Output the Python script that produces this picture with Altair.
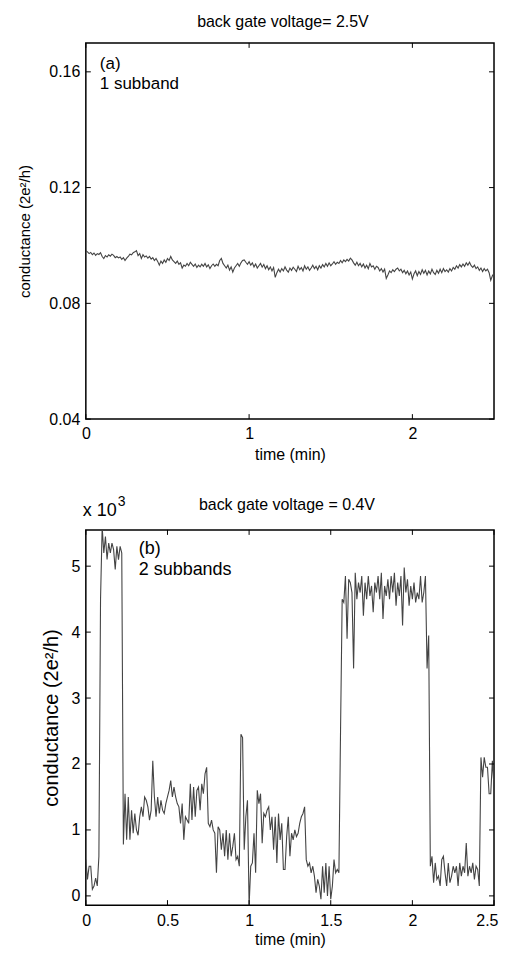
import altair as alt
import numpy as np
import pandas as pd

FONT = "Liberation Sans"
LINE_COLOR = "#444444"

# ---------------- data: panel (a), 2.5 V, sampled every 0.01 min ----------------
g_top = [
    0.0982, 0.0978, 0.0972, 0.0976, 0.0968, 0.0974, 0.0966, 0.0972, 0.0969, 0.0975,
    0.0962, 0.0955, 0.0965, 0.0960, 0.0968, 0.0963, 0.0970, 0.0966, 0.0958, 0.0962,
    0.0957, 0.0960, 0.0952, 0.0958, 0.0948, 0.0956, 0.0962, 0.0970, 0.0968, 0.0975,
    0.0978, 0.0982, 0.0965, 0.0972, 0.0955, 0.0968, 0.0960, 0.0964, 0.0956, 0.0962,
    0.0953, 0.0958, 0.0948, 0.0955, 0.0945, 0.0932, 0.0946, 0.0938, 0.0950, 0.0942,
    0.0955, 0.0948, 0.0962, 0.0950, 0.0944, 0.0938, 0.0946, 0.0935, 0.0940, 0.0922,
    0.0932, 0.0928, 0.0938, 0.0930, 0.0942, 0.0935, 0.0928, 0.0936, 0.0924, 0.0932,
    0.0926, 0.0935, 0.0928, 0.0938, 0.0926, 0.0933, 0.0920, 0.0930, 0.0936, 0.0928,
    0.0935, 0.0930, 0.0948, 0.0955, 0.0938, 0.0930, 0.0922, 0.0932, 0.0915, 0.0926,
    0.0908, 0.0922, 0.0930, 0.0938, 0.0928, 0.0940, 0.0948, 0.0950, 0.0942, 0.0935,
    0.0944, 0.0932, 0.0940, 0.0926, 0.0936, 0.0922, 0.0930, 0.0938, 0.0925, 0.0934,
    0.0920, 0.0930, 0.0916, 0.0926, 0.0912, 0.0924, 0.0890, 0.0906, 0.0918, 0.0908,
    0.0920, 0.0912, 0.0926, 0.0915, 0.0908, 0.0922, 0.0914, 0.0925, 0.0918, 0.0910,
    0.0928, 0.0916, 0.0924, 0.0912, 0.0930, 0.0918, 0.0926, 0.0914, 0.0922, 0.0932,
    0.0920, 0.0928, 0.0916, 0.0930, 0.0922, 0.0934, 0.0926, 0.0938, 0.0928, 0.0940,
    0.0930, 0.0936, 0.0944, 0.0935, 0.0942, 0.0938, 0.0948, 0.0940, 0.0950, 0.0944,
    0.0952, 0.0946, 0.0956, 0.0950, 0.0940, 0.0932, 0.0942, 0.0930, 0.0938, 0.0926,
    0.0936, 0.0922, 0.0932, 0.0920, 0.0938, 0.0926, 0.0930, 0.0918, 0.0928, 0.0924,
    0.0912, 0.0920, 0.0908, 0.0918, 0.0886, 0.0898, 0.0912, 0.0906, 0.0916, 0.0910,
    0.0918, 0.0922, 0.0912, 0.0918, 0.0906, 0.0914, 0.0902, 0.0912, 0.0898, 0.0908,
    0.0884, 0.0902, 0.0912, 0.0896, 0.0910, 0.0900, 0.0916, 0.0904, 0.0914, 0.0898,
    0.0912, 0.0902, 0.0918, 0.0906, 0.0900, 0.0914, 0.0904, 0.0918, 0.0906, 0.0920,
    0.0910, 0.0916, 0.0908, 0.0920, 0.0912, 0.0924, 0.0918, 0.0930, 0.0922, 0.0934,
    0.0926, 0.0936, 0.0928, 0.0940, 0.0932, 0.0942, 0.0930, 0.0924, 0.0932, 0.0920,
    0.0926, 0.0914, 0.0922, 0.0910, 0.0920, 0.0912, 0.0918, 0.0906, 0.0880, 0.0895,
    0.0904,
]

# ---------------- data: panel (b), 0.4 V (axis units "x 10^3"), every 0.01 min ----------------
g_bot = [
    0.55, 0.25, 0.45, 0.45, 0.10, 0.15, 0.27, 0.15, 0.60, 4.5,
    5.6, 5.2, 5.45, 5.1, 5.35, 5.2, 5.35, 5.25, 4.95, 5.3,
    5.1, 5.3, 5.2, 0.78, 1.55, 0.85, 1.5, 0.85, 1.3, 0.95,
    1.25, 1.0, 0.92, 1.2, 1.35, 1.2, 1.5, 1.45, 1.35, 1.15,
    1.3, 2.05, 1.5, 1.2, 1.5, 1.25, 1.45, 1.3, 1.25, 1.4,
    1.5, 1.6, 1.75, 1.5, 1.65, 1.5, 1.4, 1.35, 1.1, 1.4,
    0.85, 1.2, 1.15, 1.1, 1.7, 1.15, 1.65, 1.2, 1.6, 1.65,
    1.3, 1.7, 1.55, 1.85, 1.95, 1.1, 1.05, 1.15, 1.0, 0.95,
    0.35, 1.05, 1.0, 0.7, 0.95, 0.6, 1.0, 0.55, 0.95, 0.6,
    0.75, 0.95, 0.55, 0.6, 0.45, 2.45, 2.4, 0.7, 1.2, 1.45,
    -0.15, 0.45, 0.5, 0.95, 0.35, 1.6, 1.4, 1.55, 0.8, 1.25,
    1.2, 1.3, 1.35, 1.0, 1.2, 0.7, 1.2, 0.5, 1.25, 0.85,
    1.1, 0.4, 0.4, 0.9, 1.2, 0.6, 0.95, 0.85, 1.0, 0.9,
    0.95, 1.1, 1.2, 1.25, 1.35, 0.55, 0.45, 0.5, 0.35, 0.45,
    0.3, 0.05, 0.25, 0.15, -0.05, 0.45, 0.05, 0.5, 0.0, 0.45,
    -0.05, 0.15, 0.55, 0.35, 0.4, 0.35, 2.5, 4.5, 4.45, 4.85,
    3.9, 4.8, 4.75, 4.6, 3.45, 4.9, 4.5, 4.75, 4.6, 4.85,
    4.25, 4.75, 4.5, 4.85, 4.55, 4.7, 4.3, 4.75, 4.6, 4.85,
    4.5, 4.9, 4.2, 4.7, 4.55, 4.8, 4.5, 4.85, 4.6, 4.9,
    4.4, 4.75, 4.55, 4.85, 4.1, 4.98, 4.6, 4.8, 4.4, 4.7,
    4.5, 4.75, 4.45, 4.6, 4.5, 4.85, 4.45, 4.6, 4.85, 3.45,
    3.95, 0.45, 0.6, 0.2, 0.5, 0.25, 0.3, 0.15, 0.55, 0.6,
    0.35, 0.15, 0.5, 0.2, 0.3, 0.45, 0.35, 0.45, 0.15, 0.5,
    0.3, 0.45, 0.35, 0.8, 0.3, 0.45, 0.35, 0.5, 0.25, 0.45,
    0.4, 0.15, 2.1, 1.8, 2.1, 1.95, 1.95, 1.55, 1.55, 2.05,
    1.65,
]

top_y_ticks = [0.04, 0.08, 0.12, 0.16]
top_x_ticks = [0, 1, 2]
bot_y_ticks = [0, 1, 2, 3, 4, 5]
bot_x_ticks = [0, 0.5, 1, 1.5, 2, 2.5]

top_title = "back gate voltage= 2.5V"
bot_title = "back gate voltage = 0.4V"
y_label = "conductance (2e²/h)"
x_label = "time (min)"

W = 409
H1 = 377
H2 = 376
TICK = 5


def panel(values, y_dom, y_ticks, x_ticks, y_fmt, x_fmt, H, ytitle_size, ytitle_pad,
          tick_size, label_pad, xlabel_pad, xtitle_pad, flush):
    df = pd.DataFrame({"t": np.linspace(0, 2.5, len(values)), "g": values})
    xs = alt.Scale(domain=[0, 2.5], nice=False, zero=False)
    ys = alt.Scale(domain=y_dom, nice=False, zero=False)
    x_axis = alt.Axis(
        values=x_ticks, format=x_fmt, title=x_label, ticks=False, domain=False,
        grid=False, labelFont=FONT, labelFontSize=tick_size, labelColor="black",
        labelPadding=xlabel_pad, titleFont=FONT, titleFontSize=16, titleColor="black",
        titleFontWeight="normal", titlePadding=xtitle_pad, labelFlush=flush,
        labelFlushOffset=4)
    y_axis = alt.Axis(
        values=y_ticks, format=y_fmt, title=y_label, ticks=False, domain=False,
        grid=False, labelFont=FONT, labelFontSize=tick_size, labelColor="black",
        labelPadding=label_pad, titleFont=FONT, titleFontSize=ytitle_size,
        titleColor="black", titleFontWeight="normal", titlePadding=ytitle_pad,
        labelFlush=False)
    line = alt.Chart(df).mark_line(color=LINE_COLOR, strokeWidth=1.1, clip=True).encode(
        x=alt.X("t:Q", scale=xs, axis=x_axis, title=x_label),
        y=alt.Y("g:Q", scale=ys, axis=y_axis, title=y_label),
    )
    ydf = pd.DataFrame({"v": y_ticks})
    xdf = pd.DataFrame({"v": x_ticks})
    yl = alt.Chart(ydf).mark_rule(color="black", strokeWidth=1).encode(
        y=alt.Y("v:Q", scale=ys, axis=y_axis, title=y_label), x=alt.value(0), x2=alt.value(TICK))
    yr = alt.Chart(ydf).mark_rule(color="black", strokeWidth=1).encode(
        y=alt.Y("v:Q", scale=ys, axis=y_axis, title=y_label), x=alt.value(W - TICK), x2=alt.value(W))
    xb = alt.Chart(xdf).mark_rule(color="black", strokeWidth=1).encode(
        x=alt.X("v:Q", scale=xs, axis=x_axis, title=x_label), y=alt.value(H), y2=alt.value(H - TICK))
    xt = alt.Chart(xdf).mark_rule(color="black", strokeWidth=1).encode(
        x=alt.X("v:Q", scale=xs, axis=x_axis, title=x_label), y=alt.value(0), y2=alt.value(TICK))
    return [line, yl, yr, xb, xt]


def txt(s, x, y, size, align="left", baseline="middle"):
    return alt.Chart(pd.DataFrame({"s": [s]})).mark_text(
        font=FONT, fontSize=size, color="black", align=align, baseline=baseline
    ).encode(x=alt.value(x), y=alt.value(y), text="s:N")


top_layers = panel(g_top, [0.04, 0.17], top_y_ticks, top_x_ticks, ".2f", "d", H1,
                   15, 16, 16, 6, 6, 5, False)
top = alt.layer(
    *top_layers,
    txt(top_title, W / 2 - 7, -21, 16, align="center"),
    txt("(a)", 14, 21, 17),
    txt("1 subband", 14, 41, 17),
).properties(width=W, height=H1)

bot_layers = panel(g_bot, [-0.14, 5.55], bot_y_ticks, bot_x_ticks, "d", "~g", H2,
                   20, 10, 16, 6, 7, 3, True)
bot = alt.layer(
    *bot_layers,
    txt(bot_title, W / 2 - 3, -25, 16, align="center"),
    txt("x 10", -3, -14, 18, baseline="alphabetic"),
    txt("3", 32, -24, 14, baseline="alphabetic"),
    txt("(b)", 53, 19, 18),
    txt("2 subbands", 53, 40, 18),
).properties(width=W, height=H2)

chart = alt.vconcat(top, bot, spacing=111, bounds="flush").configure(
    background="white", padding={"left": 9, "top": 4, "right": 0, "bottom": 0}
).configure_view(stroke="black", strokeWidth=1.5)

chart.save("out.html", embed_options={"renderer": "svg", "actions": False})
